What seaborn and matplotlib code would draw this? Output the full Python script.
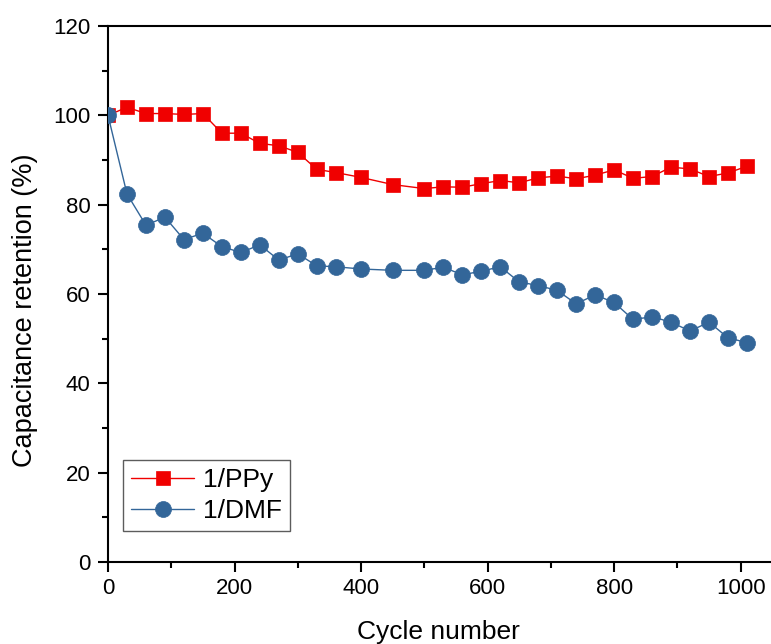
import matplotlib
matplotlib.use("Agg")
import matplotlib.pyplot as plt
import seaborn as sns
import pandas as pd
from matplotlib.ticker import MultipleLocator

cycles = [0, 30, 60, 90, 120, 150, 180, 210, 240, 270, 300, 330, 360, 400, 450,
          500, 530, 560, 590, 620, 650, 680, 710, 740, 770, 800, 830, 860, 890,
          920, 950, 980, 1010]
ppy = [100, 101.8, 100.4, 100.4, 100.2, 100.4, 96.0, 96.0, 93.7, 93.2, 91.7,
       87.9, 87.2, 86.1, 84.5, 83.6, 84.0, 83.9, 84.7, 85.4, 84.9, 86.0, 86.4,
       85.8, 86.6, 87.8, 85.9, 86.3, 88.4, 88.0, 86.3, 87.1, 88.6]
dmf = [100, 82.4, 75.4, 77.2, 72.2, 73.6, 70.6, 69.3, 71.0, 67.6, 69.0, 66.3,
       66.1, 65.6, 65.3, 65.3, 66.0, 64.3, 65.1, 66.1, 62.7, 61.9, 60.8, 57.8,
       59.8, 58.1, 54.3, 54.9, 53.7, 51.7, 53.7, 50.2, 49.1]
series_names = ["1/PPy", "1/DMF"]
x_label = "Cycle number"
y_label = "Capacitance retention (%)"

sns.set_theme(style="ticks", rc={"text.color": "black", "axes.labelcolor": "black",
                                 "xtick.color": "black", "ytick.color": "black",
                                 "axes.edgecolor": "black"})
plt.rcParams["font.family"] = ["Liberation Sans", "DejaVu Sans"]

fig = plt.figure(figsize=(7.71, 6.44), dpi=100)
ax = fig.add_axes([108 / 771, 82 / 644, 1 - 108 / 771, 536 / 644])

df_ppy = pd.DataFrame({"x": cycles, "y": ppy})
df_dmf = pd.DataFrame({"x": cycles, "y": dmf})

red = "#F00000"
blue = "#336699"
sns.lineplot(data=df_ppy, x="x", y="y", ax=ax, color=red, marker="s",
             markersize=10, markeredgecolor=red, markeredgewidth=0.5,
             linewidth=1.0, label=series_names[0], zorder=3)
sns.lineplot(data=df_dmf, x="x", y="y", ax=ax, color=blue, marker="o",
             markersize=11.5, markeredgecolor=blue, markeredgewidth=0.5,
             linewidth=1.0, label=series_names[1], zorder=4)

ax.set_xlim(0, 1048)
ax.set_ylim(0, 120)
ax.xaxis.set_major_locator(MultipleLocator(200))
ax.xaxis.set_minor_locator(MultipleLocator(100))
ax.yaxis.set_major_locator(MultipleLocator(20))
ax.yaxis.set_minor_locator(MultipleLocator(10))

for side in ["left", "bottom", "top"]:
    ax.spines[side].set_linewidth(1.5)
    ax.spines[side].set_color("black")
ax.spines["right"].set_visible(False)

ax.tick_params(which="major", direction="out", length=7, width=1.5,
               labelsize=16, colors="black")
ax.tick_params(which="minor", direction="out", length=4, width=1.5,
               colors="black")
ax.tick_params(axis="x", which="major", pad=4.5)
ax.tick_params(axis="y", which="major", pad=5.5)
ax.tick_params(top=False, right=False, which="both")

ax.set_xlabel(x_label, fontsize=19, color="black", va="top")
ax.set_ylabel(y_label, fontsize=19.5, color="black", va="center")
ax.xaxis.set_label_coords(0.499, -0.108)
ax.yaxis.set_label_coords(-0.125, 0.47)

leg = ax.legend(loc="lower left", bbox_to_anchor=(0.0226, 0.058), fontsize=19,
                frameon=True, fancybox=False, edgecolor="#333333",
                handlelength=2.4, borderpad=0.3, labelspacing=0.25,
                handletextpad=0.35, borderaxespad=0)
leg.get_frame().set_linewidth(1.0)
for t in leg.get_texts():
    t.set_color("black")

fig.savefig("out.png", dpi=100, facecolor="white")
